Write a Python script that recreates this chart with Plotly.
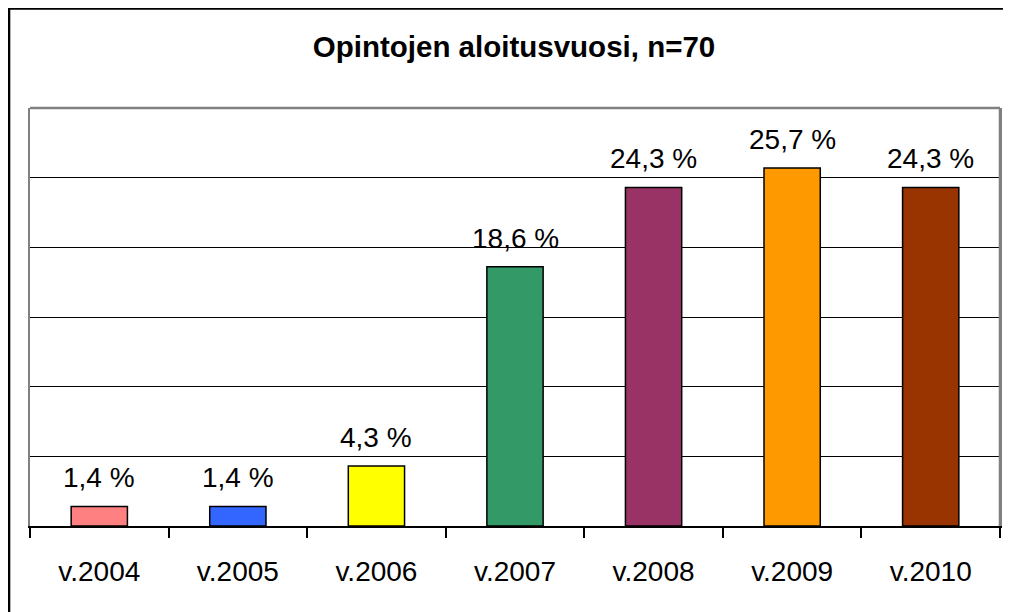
import plotly.graph_objects as go

categories = ["v.2004", "v.2005", "v.2006", "v.2007", "v.2008", "v.2009", "v.2010"]
values = [1.4, 1.4, 4.3, 18.6, 24.3, 25.7, 24.3]
labels = ["1,4 %", "1,4 %", "4,3 %", "18,6 %", "24,3 %", "25,7 %", "24,3 %"]
colors = ["#FF8080", "#3366FF", "#FFFF00", "#339966", "#993366", "#FF9900", "#993300"]
title_text = "Opintojen aloitusvuosi, n=70"

FONT = "Liberation Sans, Arial, sans-serif"

fig = go.Figure()
fig.add_trace(go.Bar(
    x=categories, y=values,
    marker=dict(color=colors, line=dict(color="#000000", width=1.5)),
    hoverinfo="skip",
))

for c, v, t in zip(categories, values, labels):
    fig.add_annotation(x=c, y=v, text=t, showarrow=False, yanchor="bottom",
                       yshift=11, font=dict(family=FONT, size=28, color="#000000"))

# outer chart border (left and top visible)
fig.add_shape(type="rect", xref="paper", yref="paper",
              x0=-0.0216, x1=1.05, y0=-0.3, y1=1.2378,
              line=dict(color="#000000", width=2.5), layer="above")

fig.update_layout(
    width=1003, height=604,
    margin=dict(l=22, r=9, t=100, b=85.5),
    paper_bgcolor="#FFFFFF", plot_bgcolor="#FFFFFF",
    bargap=0.594,
    showlegend=False,
    title=dict(text="<b>" + title_text + "</b>", x=506 / 1003, xref="container", xanchor="center",
               y=1 - 39 / 604, yref="container", yanchor="middle",
               font=dict(family=FONT, size=29.5, color="#000000")),
    font=dict(family=FONT, size=28, color="#000000"),
)

fig.update_xaxes(
    showline=True, linecolor="#000000", linewidth=1.5,
    ticks="outside", ticklen=10, tickcolor="#000000", tickwidth=1.5,
    tickson="boundaries", ticklabelstandoff=20,
    tickfont=dict(family=FONT, size=28, color="#000000"),
    showgrid=False, mirror=False,
)
fig.update_yaxes(
    range=[0, 30], dtick=5, showticklabels=False, ticks="",
    showgrid=True, gridcolor="#000000", gridwidth=1,
    showline=True, linecolor="#808080", linewidth=2, mirror=True,
    zeroline=False,
)
# top and right border in gray
fig.add_shape(type="line", xref="paper", yref="paper", x0=0, x1=1, y0=1, y1=1,
              line=dict(color="#808080", width=2.5))
fig.add_shape(type="line", xref="paper", yref="paper", x0=1, x1=1, y0=0, y1=1,
              line=dict(color="#808080", width=2.5))

fig.write_html("out.html")
